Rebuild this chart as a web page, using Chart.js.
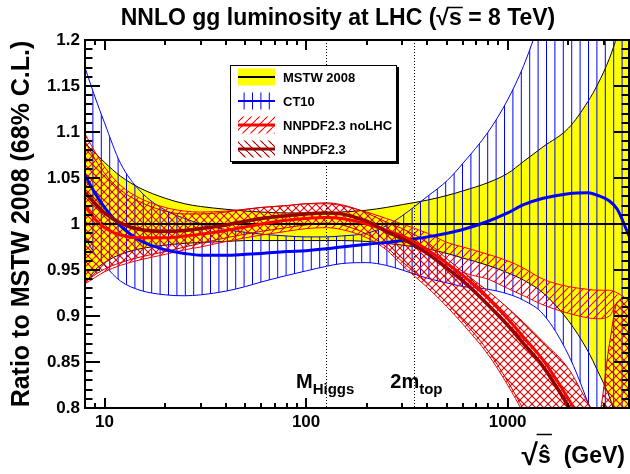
<!DOCTYPE html>
<html><head><meta charset="utf-8">
<script src="https://cdn.jsdelivr.net/npm/chart.js@4.4.1/dist/chart.umd.min.js"></script>
<style>html,body{margin:0;padding:0;background:#fff;}</style>
</head><body>
<canvas id="c" width="630" height="474"></canvas>
<script>
// ---------------- data ----------------
const sqrtS = [8, 9, 10, 12, 15, 20, 25, 30, 40, 50, 60, 80, 100, 126, 150, 200, 250, 300, 400, 500, 600, 800, 1000, 1200, 1500, 2000, 2500, 2800, 3200, 3500, 4000];

const mstwCentral = [1,1,1,1,1,1,1,1,1,1,1,1,1,1,1,1,1,1,1,1,1,1,1,1,1,1,1,1,1,1,1];
const mstwUpper = [1.088,1.077,1.067,1.052,1.039,1.028,1.022,1.019,1.016,1.014,1.013,1.012,1.012,1.012,1.013,1.015,1.018,1.021,1.026,1.031,1.036,1.045,1.055,1.068,1.084,1.104,1.133,1.152,1.180,1.205,1.245];
const mstwLower = [0.935,0.950,0.958,0.967,0.973,0.977,0.979,0.980,0.981,0.982,0.982,0.982,0.982,0.982,0.982,0.981,0.979,0.977,0.973,0.968,0.963,0.955,0.947,0.939,0.925,0.895,0.862,0.840,0.812,0.785,0.745];

const ct10Central = [1.053,1.033,1.018,0.998,0.982,0.972,0.968,0.966,0.966,0.967,0.968,0.970,0.971,0.973,0.975,0.978,0.980,0.982,0.986,0.990,0.994,1.003,1.012,1.021,1.028,1.033,1.034,1.031,1.025,1.016,0.987];
const ct10Upper = [1.170,1.137,1.110,1.066,1.036,1.015,1.006,1.000,0.994,0.991,0.989,0.987,0.986,0.986,0.987,0.990,0.998,1.009,1.030,1.047,1.066,1.100,1.135,1.172,1.230,1.300,1.400,1.450,1.550,1.600,1.700];
const ct10Lower = [0.985,0.967,0.955,0.938,0.928,0.923,0.922,0.923,0.927,0.932,0.937,0.944,0.949,0.954,0.957,0.958,0.955,0.950,0.941,0.936,0.932,0.929,0.924,0.917,0.902,0.858,0.806,0.775,0.735,0.700,0.650];

// NNPDF2.3 noLHC: outer edges, plus the lower border of the separated upper strip seen at high mass
const noLhcCentral = [1.019,1.005,0.996,0.988,0.985,0.985,0.987,0.989,0.993,0.997,1.000,1.004,1.006,1.007,1.006,1.000,0.993,0.987,0.972,0.957,0.944,0.919,0.897,0.877,0.852,0.810,0.773,0.752,0.728,0.708,0.678];
const noLhcUpper = [1.098,1.078,1.062,1.042,1.028,1.018,1.014,1.013,1.014,1.016,1.018,1.020,1.022,1.022,1.020,1.013,1.006,1.000,0.990,0.980,0.975,0.967,0.960,0.952,0.940,0.932,0.929,0.928,0.928,0.925,0.917];
const noLhcStripLower = [1.090,1.070,1.055,1.037,1.024,1.014,1.011,1.011,1.013,1.016,1.018,1.020,1.022,1.023,1.021,1.012,1.002,0.995,0.980,0.962,0.948,0.940,0.930,0.922,0.912,0.903,0.898,0.897,0.900,0.915,0.920];
const noLhcLower = [0.935,0.942,0.948,0.955,0.961,0.967,0.972,0.975,0.981,0.985,0.988,0.992,0.995,0.996,0.994,0.985,0.972,0.955,0.931,0.910,0.891,0.858,0.825,0.794,0.752,0.696,0.656,0.636,0.611,0.596,0.566];

const nnpdfCentral = [1.034,1.022,1.012,1.001,0.994,0.992,0.993,0.995,0.999,1.003,1.006,1.009,1.011,1.012,1.011,1.003,0.992,0.984,0.968,0.952,0.938,0.912,0.890,0.870,0.845,0.802,0.765,0.745,0.720,0.700,0.670];
const nnpdfUpper = [1.090,1.070,1.055,1.037,1.024,1.014,1.011,1.011,1.013,1.016,1.018,1.020,1.022,1.023,1.021,1.012,1.002,0.995,0.980,0.962,0.948,0.927,0.909,0.893,0.872,0.843,0.806,0.790,0.870,0.915,0.920];
const nnpdfLower = [0.937,0.945,0.951,0.958,0.964,0.970,0.975,0.979,0.985,0.989,0.992,0.996,0.999,1.001,0.999,0.989,0.975,0.959,0.935,0.914,0.895,0.862,0.829,0.798,0.756,0.700,0.660,0.640,0.615,0.600,0.570];

const yTicks = [0.8, 0.85, 0.9, 0.95, 1, 1.05, 1.1, 1.15, 1.2];
const yTickLabels = ['0.8', '0.85', '0.9', '0.95', '1', '1.05', '1.1', '1.15', '1.2'];
const xTicks = [10, 100, 1000];
const xTickLabels = ['10', '100', '1000'];
const markers = [126, 345];
const markerLabels = [['M', 'Higgs'], ['2m', 'top']];
const legendLabels = ['MSTW 2008', 'CT10', 'NNPDF2.3 noLHC', 'NNPDF2.3'];
const titleParts = ['NNLO gg luminosity at LHC (', '\u221As', ' = 8 TeV)'];
const xTitleParts = ['\u221A', '\u015D', '  (GeV)'];
const yTitle = 'Ratio to MSTW 2008 (68% C.L.)';

// ---------------- styling ----------------
const FONT = '"Liberation Sans", Arial, Helvetica, sans-serif';
Chart.defaults.font.family = FONT;
Chart.defaults.color = '#000';

function makePattern(kind, color, step, lw) {
  const c = document.createElement('canvas');
  const g = c.getContext('2d');
  if (kind === '|') {
    const n = 5; c.width = Math.round(step * n); c.height = 8;
    g.strokeStyle = color; g.lineWidth = lw;
    for (let i = 0; i < n; i++) { const x = i * step + 0.5; g.beginPath(); g.moveTo(x, 0); g.lineTo(x, 8); g.stroke(); }
  } else {
    c.width = step; c.height = step;
    g.strokeStyle = color; g.lineWidth = lw;
    for (let k = -1; k <= 1; k++) {
      g.beginPath();
      if (kind === '/') { g.moveTo(k * step, step); g.lineTo(k * step + step, 0); }
      else { g.moveTo(k * step, 0); g.lineTo(k * step + step, step); }
      g.stroke();
    }
  }
  return g.createPattern(c, 'repeat');
}

const YELLOW = '#ffff00';
const BLUE = '#0000ff';
const RED = '#ff0000';
const DKRED = '#990000';
const NONE = 'rgba(0,0,0,0)';
const patCT = makePattern('|', BLUE, 8.4, 1);
const patNo = makePattern('/', RED, 8, 1.1);
const patNn = makePattern('\\', '#d40000', 8, 1.1);
const patNnLeg = makePattern('\\', '#a00000', 8, 1.2);

function series(arr) { return sqrtS.map((x, i) => ({ x: x, y: arr[i] })); }
const stripSeparated = noLhcStripLower.map((v, i) => v - nnpdfUpper[i] > 0.001);
const base = { pointRadius: 0, pointHoverRadius: 0, cubicInterpolationMode: 'monotone', clip: 0, fill: false };

const datasets = [
  { ...base, label: 'MSTW 2008 upper', data: series(mstwUpper), borderColor: '#000', borderWidth: 1, fill: '+1', backgroundColor: YELLOW, order: 22 },
  { ...base, label: 'MSTW 2008 lower', data: series(mstwLower), borderColor: '#000', borderWidth: 1, order: 21 },
  { ...base, label: 'CT10 upper', data: series(ct10Upper), borderColor: BLUE, borderWidth: 1, fill: '+1', backgroundColor: patCT, order: 20 },
  { ...base, label: 'CT10 lower', data: series(ct10Lower), borderColor: BLUE, borderWidth: 1, order: 19 },
  { ...base, label: 'NNPDF2.3 noLHC upper', data: series(noLhcUpper), borderColor: RED, borderWidth: 1, fill: '+1', backgroundColor: patNo, order: 18 },
  { ...base, label: 'NNPDF2.3 noLHC strip lower', data: series(noLhcStripLower), borderColor: RED, borderWidth: 1, order: 17,
    segment: { borderColor: c => (stripSeparated[c.p0DataIndex] || stripSeparated[c.p1DataIndex]) ? RED : NONE } },
  { ...base, label: 'NNPDF2.3 noLHC inner', data: series(nnpdfUpper), borderColor: NONE, borderWidth: 0, fill: '+1', backgroundColor: patNo, order: 16 },
  { ...base, label: 'NNPDF2.3 noLHC lower', data: series(noLhcLower), borderColor: RED, borderWidth: 1, order: 15 },
  { ...base, label: 'NNPDF2.3 upper', data: series(nnpdfUpper), borderColor: '#cc0000', borderWidth: 1, fill: '+1', backgroundColor: patNn, order: 14 },
  { ...base, label: 'NNPDF2.3 lower', data: series(nnpdfLower), borderColor: '#cc0000', borderWidth: 1, order: 13 },
  { ...base, label: 'MSTW 2008', data: series(mstwCentral), borderColor: '#000', borderWidth: 2, order: 4 },
  { ...base, label: 'CT10', data: series(ct10Central), borderColor: BLUE, borderWidth: 3, order: 3 },
  { ...base, label: 'NNPDF2.3 noLHC', data: series(noLhcCentral), borderColor: RED, borderWidth: 3, order: 2 },
  { ...base, label: 'NNPDF2.3', data: series(nnpdfCentral), borderColor: DKRED, borderWidth: 3.5, order: 1 }
];

const legendStyles = [
  { fill: YELLOW, line: '#000', lw: 2 },
  { fill: patCT, line: BLUE, lw: 2 },
  { fill: patNo, line: RED, lw: 3 },
  { fill: patNnLeg, line: DKRED, lw: 3 }
];

const deco = {
  id: 'rootDeco',
  afterDatasetsDraw(chart) {
    const { ctx, chartArea: a, scales: { x, y } } = chart;
    ctx.save();
    // dotted marker lines
    ctx.strokeStyle = '#000'; ctx.lineWidth = 1; ctx.setLineDash([1, 2]);
    markers.forEach(m => {
      const px = Math.round(x.getPixelForValue(m)) + 0.5;
      ctx.beginPath(); ctx.moveTo(px, a.top); ctx.lineTo(px, a.bottom); ctx.stroke();
    });
    ctx.setLineDash([]);
    // frame
    ctx.lineWidth = 2; ctx.strokeStyle = '#000';
    ctx.strokeRect(a.left, a.top, a.right - a.left, a.bottom - a.top);
    // y ticks (major = labelled values, minor every 0.01)
    const nMinor = Math.round((y.max - y.min) / 0.01);
    for (let k = 0; k <= nMinor; k++) {
      const v = y.min + k * 0.01;
      const py = Math.round(y.getPixelForValue(v));
      const major = yTicks.some(t => Math.abs(t - v) < 1e-6);
      const len = major ? 15 : 7.5;
      ctx.beginPath();
      ctx.moveTo(a.left, py); ctx.lineTo(a.left + len, py);
      ctx.moveTo(a.right, py); ctx.lineTo(a.right - len, py);
      ctx.stroke();
    }
    // x ticks (log decades)
    for (let e = 0; e <= 3; e++) {
      for (let d = 1; d <= 9; d++) {
        const v = d * Math.pow(10, e);
        if (v <= x.min || v >= x.max) continue;
        const px = Math.round(x.getPixelForValue(v));
        const len = xTicks.includes(v) ? 10 : 5;
        ctx.beginPath();
        ctx.moveTo(px, a.bottom); ctx.lineTo(px, a.bottom - len);
        ctx.moveTo(px, a.top); ctx.lineTo(px, a.top + len);
        ctx.stroke();
      }
    }
    // marker labels
    ctx.fillStyle = '#000'; ctx.textBaseline = 'alphabetic'; ctx.textAlign = 'left';
    markers.forEach((m, i) => {
      const px = x.getPixelForValue(m);
      ctx.font = 'bold 20px ' + FONT;
      const w1 = ctx.measureText(markerLabels[i][0]).width;
      ctx.font = 'bold 15px ' + FONT;
      const w2 = ctx.measureText(markerLabels[i][1]).width;
      const x0 = px + 28 - w1 - w2;
      ctx.font = 'bold 20px ' + FONT;
      ctx.fillText(markerLabels[i][0], x0, 388);
      ctx.font = 'bold 15px ' + FONT;
      ctx.fillText(markerLabels[i][1], x0 + w1, 394);
    });
    // legend box
    const L = 230, T = 65, W = 167, H = 97;
    ctx.fillStyle = '#000'; ctx.fillRect(L + 2, T + 2, W, H);
    ctx.fillStyle = '#fff'; ctx.fillRect(L, T, W, H);
    ctx.lineWidth = 1; ctx.strokeStyle = '#000'; ctx.strokeRect(L + 0.5, T + 0.5, W - 1, H - 1);
    const rowsY = [77, 101, 125, 149];
    legendLabels.forEach((lab, i) => {
      const st = legendStyles[i];
      const cy = rowsY[i];
      ctx.fillStyle = st.fill; ctx.fillRect(238, cy - 8.5, 37, 17);
      ctx.strokeStyle = st.line; ctx.lineWidth = st.lw;
      ctx.beginPath(); ctx.moveTo(238, cy); ctx.lineTo(275, cy); ctx.stroke();
      ctx.fillStyle = '#000'; ctx.font = 'bold 13px ' + FONT; ctx.textBaseline = 'middle';
      ctx.fillText(lab, 283, cy + 1);
    });
    ctx.restore();
  },
  afterDraw(chart) {
    const { ctx } = chart;
    ctx.save();
    ctx.fillStyle = '#000'; ctx.strokeStyle = '#000';
    ctx.textBaseline = 'alphabetic'; ctx.textAlign = 'left';
    // main title
    ctx.font = 'bold 23px ' + FONT;
    const full = titleParts.join('');
    const wf = ctx.measureText(full).width;
    const x0 = 338 - wf / 2;
    ctx.fillText(full, x0, 25);
    const wa = ctx.measureText(titleParts[0] + '\u221A').width;
    const wb = ctx.measureText(titleParts[0] + titleParts[1]).width;
    ctx.lineWidth = 1.5;
    ctx.beginPath(); ctx.moveTo(x0 + wa - 1, 7.5); ctx.lineTo(x0 + wb + 1, 7.5); ctx.stroke();
    // x axis title: big radical, then s-hat and unit
    ctx.font = 'bold 23px ' + FONT;
    const wRest = ctx.measureText(xTitleParts[1] + xTitleParts[2]).width;
    const wS = ctx.measureText(xTitleParts[1]).width;
    ctx.font = 'bold 30px ' + FONT;
    const wR = ctx.measureText(xTitleParts[0]).width;
    const xs = 625 - wRest - wR;
    ctx.fillText(xTitleParts[0], xs, 465);
    ctx.font = 'bold 23px ' + FONT;
    ctx.fillText(xTitleParts[1] + xTitleParts[2], xs + wR, 463);
    ctx.lineWidth = 1.5;
    ctx.beginPath(); ctx.moveTo(xs + wR - 1.5, 434.5); ctx.lineTo(xs + wR + wS + 1, 434.5); ctx.stroke();
    ctx.restore();
  }
};

new Chart(document.getElementById('c'), {
  type: 'line',
  data: { datasets: datasets },
  options: {
    responsive: false,
    devicePixelRatio: 1,
    animation: false,
    events: [],
    layout: { padding: { top: 40, right: 1, left: 0, bottom: 0 } },
    plugins: { legend: { display: false }, tooltip: { enabled: false }, title: { display: false } },
    scales: {
      x: {
        type: 'logarithmic', min: 8, max: 4000, position: 'bottom',
        afterBuildTicks: s => { s.ticks = xTicks.map(v => ({ value: v, major: true })); },
        afterFit: s => { s.height = 66; },
        ticks: { autoSkip: false, maxRotation: 0, padding: 4, font: { size: 17, weight: 'bold' }, color: '#000',
          callback: (v, i) => xTickLabels[i] },
        grid: { display: false, drawTicks: false },
        border: { display: false }
      },
      y: {
        type: 'linear', min: 0.8, max: 1.2, position: 'left',
        afterBuildTicks: s => { s.ticks = yTicks.map(v => ({ value: v })); },
        afterFit: s => { s.width = 85; },
        ticks: { padding: 5, font: { size: 17, weight: 'bold' }, color: '#000',
          callback: (v, i) => yTickLabels[i] },
        grid: { display: false, drawTicks: false },
        border: { display: false },
        title: { display: true, text: yTitle, font: { size: 25, weight: 'bold' }, color: '#000', padding: { top: 7.5, bottom: 0 } }
      }
    }
  },
  plugins: [deco]
});
</script>
</body></html>
